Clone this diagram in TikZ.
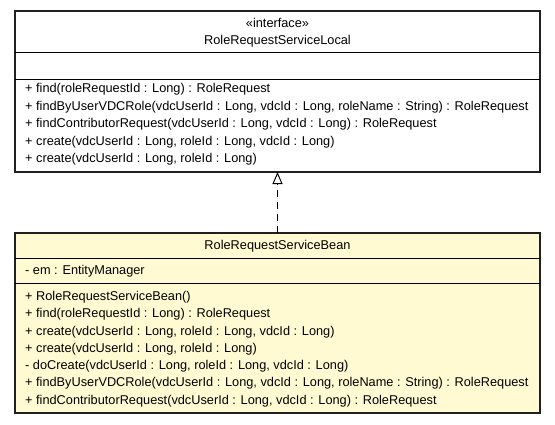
\documentclass[tikz,border=0pt]{standalone}
\usepackage{fontspec}
\setmainfont{Liberation Sans}
\usetikzlibrary{arrows.meta}
\definecolor{beanfill}{HTML}{FFFAD2}
\definecolor{edge}{HTML}{202020}
\begin{document}
\begin{tikzpicture}[x=1pt,y=-1pt,
  classbox/.style={draw=edge,line width=1.1pt,minimum width=525pt,inner sep=0pt,outer sep=0pt},
  sepline/.style={draw=black,line width=1pt},
  txt/.style={anchor=base west,inner sep=0pt,font=\fontsize{12.75}{14}\selectfont},
  ctxt/.style={anchor=base,inner sep=0pt,font=\fontsize{12.75}{14}\selectfont},
  realize/.style={draw=black,line width=1pt,dash pattern=on 7pt off 5pt,-{Triangle[open,length=12pt,width=10pt,line width=1pt]}}]
\useasboundingbox (0,0) rectangle (555,424);
% interface box
\node[classbox,fill=white,minimum height=161pt] (local) at (277.5,91.5) {};
\draw[sepline] (15,52) -- (540,52);
\draw[sepline] (15,79) -- (540,79);
\node[ctxt] (lst) at (277.5,27) {«interface»};
\node[ctxt] (lname) at (277.5,44.5) {RoleRequestServiceLocal};
\node[txt] (l1) at (25,92.5) {+ find(roleRequestId : Long) : RoleRequest};
\node[txt] (l2) at (25,110) {+ findByUserVDCRole(vdcUserId : Long, vdcId : Long, roleName : String) : RoleRequest};
\node[txt] (l3) at (25,127.5) {+ findContributorRequest(vdcUserId : Long, vdcId : Long) : RoleRequest};
\node[txt] (l4) at (25,145) {+ create(vdcUserId : Long, roleId : Long, vdcId : Long)};
\node[txt] (l5) at (25,162.5) {+ create(vdcUserId : Long, roleId : Long)};
% bean box
\node[classbox,fill=beanfill,minimum height=180pt] (bean) at (277.5,323) {};
\draw[sepline] (15,258) -- (540,258);
\draw[sepline] (15,283) -- (540,283);
\node[ctxt] (bname) at (277.5,249.5) {RoleRequestServiceBean};
\node[txt] (ba) at (25,274.5) {- em : EntityManager};
\node[txt] (b1) at (25,300.5) {+ RoleRequestServiceBean()};
\node[txt] (b2) at (25,317.75) {+ find(roleRequestId : Long) : RoleRequest};
\node[txt] (b3) at (25,335) {+ create(vdcUserId : Long, roleId : Long, vdcId : Long)};
\node[txt] (b4) at (25,352.25) {+ create(vdcUserId : Long, roleId : Long)};
\node[txt] (b5) at (25,369.5) {- doCreate(vdcUserId : Long, roleId : Long, vdcId : Long)};
\node[txt] (b6) at (25,386.75) {+ findByUserVDCRole(vdcUserId : Long, vdcId : Long, roleName : String) : RoleRequest};
\node[txt] (b7) at (25,404) {+ findContributorRequest(vdcUserId : Long, vdcId : Long) : RoleRequest};
% realization
\draw[realize] (bean.north) -- (local.south);
\end{tikzpicture}
\end{document}
